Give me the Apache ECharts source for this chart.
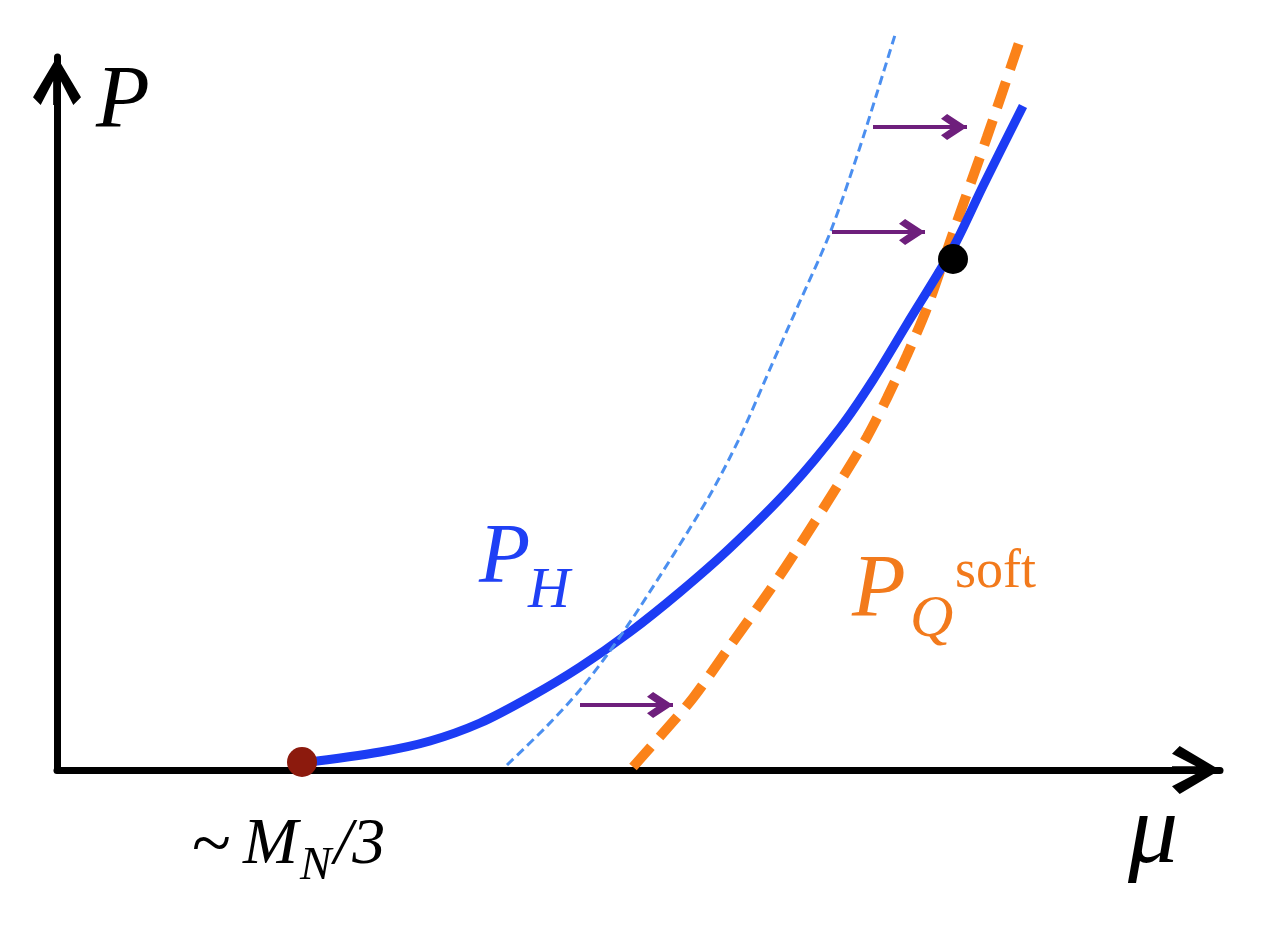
<!DOCTYPE html>
<html>
<head>
<meta charset="utf-8">
<title>P vs mu sketch</title>
<script src="https://cdn.jsdelivr.net/npm/echarts@6/dist/echarts.min.js"></script>
<style>
  html, body { margin: 0; padding: 0; background: #fff; }
  #chart { width: 1261px; height: 938px; }
</style>
</head>
<body>
<div id="chart"></div>
<script>
// values: x = mu, y = P (arbitrary units, origin at the axes corner)
const hadronCurve = [
  [245, 7], [323, 18], [373, 29], [423, 47], [473, 73], [523, 103], [573, 138],
  [623, 178], [673, 222], [733, 282], [783, 342], [816, 390], [850, 446],
  [896, 522], [926, 584], [966, 664]
];
const quarkSoftCurve = [
  [576, 3], [606, 37], [636, 72], [673, 124], [713, 180], [743, 225], [786, 293],
  [810, 333], [830, 372], [850, 415], [870, 462], [896, 537], [930, 633], [963, 730]
];
const shiftedCurve = [
  [450, 5], [490, 44], [523, 80], [550, 115], [583, 163], [650, 270], [683, 333],
  [716, 408], [740, 462], [773, 537], [801, 617], [820, 677], [838, 735]
];
// [from mu, to mu, at P]
const shiftArrows = [
  [816, 910, 643],
  [775, 868, 538],
  [523, 616, 65]
];
const onsetPoint = [245, 8];
const matchPoint = [896, 511];

const xMax = 1163;
const yMax = 713;

// open arrow head with a short shaft, pointing up
const axisArrow = 'path://M50 0 L100 84 L84 100 L58 50 L58 100 L42 100 L42 50 L16 100 L0 84 Z';
const thinArrow = 'path://M50 0 L100 72 L82 94 L50 50 L18 94 L0 72 Z';

const serif = '"Liberation Serif", "DejaVu Serif", serif';

const axisCommon = {
  type: 'value',
  axisTick: { show: false },
  axisLabel: { show: false },
  splitLine: { show: false },
  axisLine: {
    show: true,
    onZero: false,
    lineStyle: { color: '#000', width: 7 },
    symbol: ['none', axisArrow],
    symbolSize: [50, 48],
    symbolOffset: [0, -24]
  }
};

const chart = echarts.init(document.getElementById('chart'));

const text = (str, x, y, size, color, italic) => ({
  type: 'text',
  x: x,
  y: y,
  z: 100,
  style: {
    text: str,
    font: (italic ? 'italic ' : '') + size + 'px ' + serif,
    fill: color,
    align: 'left',
    verticalAlign: 'middle'
  }
});

chart.setOption({
  animation: false,
  backgroundColor: '#fff',
  grid: { left: 57, right: 41, top: 57, bottom: 168 },
  xAxis: Object.assign({}, axisCommon, { min: 0, max: xMax }),
  yAxis: Object.assign({}, axisCommon, { min: 0, max: yMax }),
  series: [
    {
      name: 'P_Q soft',
      type: 'line',
      data: quarkSoftCurve,
      smooth: 0.3,
      showSymbol: false,
      clip: false,
      z: 2,
      lineStyle: { color: '#fb8219', width: 10, type: [27, 13], cap: 'butt' }
    },
    {
      name: 'P_H',
      type: 'line',
      data: hadronCurve,
      smooth: 0.3,
      showSymbol: false,
      clip: false,
      z: 3,
      lineStyle: { color: '#1c3cf4', width: 9, cap: 'butt' }
    },
    {
      name: 'shifted',
      type: 'line',
      data: shiftedCurve,
      smooth: 0.3,
      showSymbol: false,
      clip: false,
      z: 4,
      lineStyle: { color: '#4b8ff0', width: 3, type: [9, 5] },
      markLine: {
        silent: true,
        animation: false,
        symbol: ['none', thinArrow],
        symbolSize: [26, 26],
        symbolOffset: [0, [0, 13]],
        label: { show: false },
        lineStyle: { color: '#6e1f7c', width: 4, type: 'solid' },
        data: shiftArrows.map(a => [{ coord: [a[0], a[2]] }, { coord: [a[1], a[2]] }])
      }
    },
    {
      name: 'points',
      type: 'scatter',
      z: 5,
      symbolSize: 30,
      itemStyle: { opacity: 1 },
      data: [
        { value: onsetPoint, itemStyle: { color: '#8c1a0d', opacity: 1 } },
        { value: matchPoint, itemStyle: { color: '#000', opacity: 1 } }
      ]
    }
  ],
  graphic: [
    text('P', 96, 103, 88, '#000', true),
    text('P', 479, 560, 84, '#1f40f5', true),
    text('H', 528, 592, 58, '#1f40f5', true),
    text('P', 852, 592, 88, '#f27a1c', true),
    text('Q', 910, 620, 60, '#f27a1c', true),
    text('soft', 955, 573, 54, '#f27a1c', false),
    text('~', 192, 848, 72, '#000', false),
    text('M', 243, 846, 66, '#000', true),
    text('N', 300, 867, 47, '#000', true),
    text('/3', 334, 846, 66, '#000', true),
    text('μ', 1128, 836, 100, '#000', true)
  ]
});
</script>
</body>
</html>
